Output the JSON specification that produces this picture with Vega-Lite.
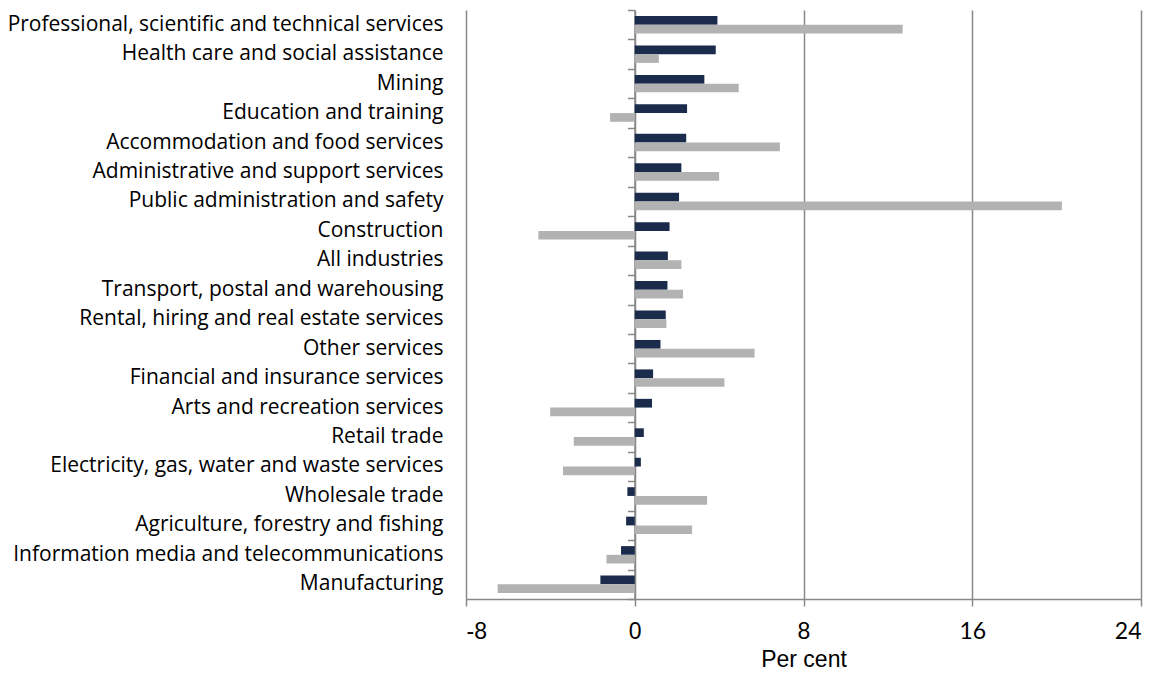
{
  "$schema": "https://vega.github.io/schema/vega-lite/v6.json",
  "width": 675,
  "height": 589,
  "autosize": "none",
  "padding": {"left": 466, "top": 10, "right": 21, "bottom": 74},
  "background": "white",
  "config": {"view": {"stroke": null}},
  "data": {
    "values": [
      {"industry": "Professional, scientific and technical services", "series": "Series 1", "value": 3.92},
      {"industry": "Professional, scientific and technical services", "series": "Series 2", "value": 12.7},
      {"industry": "Health care and social assistance", "series": "Series 1", "value": 3.84},
      {"industry": "Health care and social assistance", "series": "Series 2", "value": 1.14},
      {"industry": "Mining", "series": "Series 1", "value": 3.3},
      {"industry": "Mining", "series": "Series 2", "value": 4.93},
      {"industry": "Education and training", "series": "Series 1", "value": 2.48},
      {"industry": "Education and training", "series": "Series 2", "value": -1.17},
      {"industry": "Accommodation and food services", "series": "Series 1", "value": 2.44},
      {"industry": "Accommodation and food services", "series": "Series 2", "value": 6.88},
      {"industry": "Administrative and support services", "series": "Series 1", "value": 2.21},
      {"industry": "Administrative and support services", "series": "Series 2", "value": 4.0},
      {"industry": "Public administration and safety", "series": "Series 1", "value": 2.1},
      {"industry": "Public administration and safety", "series": "Series 2", "value": 20.25},
      {"industry": "Construction", "series": "Series 1", "value": 1.65},
      {"industry": "Construction", "series": "Series 2", "value": -4.57},
      {"industry": "All industries", "series": "Series 1", "value": 1.57},
      {"industry": "All industries", "series": "Series 2", "value": 2.21},
      {"industry": "Transport, postal and warehousing", "series": "Series 1", "value": 1.55},
      {"industry": "Transport, postal and warehousing", "series": "Series 2", "value": 2.29},
      {"industry": "Rental, hiring and real estate services", "series": "Series 1", "value": 1.47},
      {"industry": "Rental, hiring and real estate services", "series": "Series 2", "value": 1.5},
      {"industry": "Other services", "series": "Series 1", "value": 1.22},
      {"industry": "Other services", "series": "Series 2", "value": 5.68},
      {"industry": "Financial and insurance services", "series": "Series 1", "value": 0.87},
      {"industry": "Financial and insurance services", "series": "Series 2", "value": 4.25},
      {"industry": "Arts and recreation services", "series": "Series 1", "value": 0.82},
      {"industry": "Arts and recreation services", "series": "Series 2", "value": -4.01},
      {"industry": "Retail trade", "series": "Series 1", "value": 0.43},
      {"industry": "Retail trade", "series": "Series 2", "value": -2.89},
      {"industry": "Electricity, gas, water and waste services", "series": "Series 1", "value": 0.29},
      {"industry": "Electricity, gas, water and waste services", "series": "Series 2", "value": -3.4},
      {"industry": "Wholesale trade", "series": "Series 1", "value": -0.35},
      {"industry": "Wholesale trade", "series": "Series 2", "value": 3.43},
      {"industry": "Agriculture, forestry and fishing", "series": "Series 1", "value": -0.41},
      {"industry": "Agriculture, forestry and fishing", "series": "Series 2", "value": 2.72},
      {"industry": "Information media and telecommunications", "series": "Series 1", "value": -0.65},
      {"industry": "Information media and telecommunications", "series": "Series 2", "value": -1.34},
      {"industry": "Manufacturing", "series": "Series 1", "value": -1.63},
      {"industry": "Manufacturing", "series": "Series 2", "value": -6.5}
    ]
  },
  "layer": [
    {
      "mark": {"type": "bar"},
      "encoding": {
        "y": {
          "field": "industry",
          "type": "nominal",
          "sort": null,
          "scale": {"paddingInner": 0, "paddingOuter": 0},
          "axis": {
            "orient": "left",
            "title": null,
            "domain": false,
            "ticks": false,
            "grid": false,
            "labelPadding": 23,
            "labelFont": "Open Sans",
            "labelFontSize": 21,
            "labelColor": "#000000",
            "labelLimit": 800
          }
        },
        "yOffset": {
          "field": "series",
          "type": "nominal",
          "sort": ["Series 1", "Series 2"],
          "scale": {"paddingInner": 0, "paddingOuter": 0.69}
        },
        "x": {
          "field": "value",
          "type": "quantitative",
          "scale": {"domain": [-8, 24], "nice": false, "zero": false},
          "axis": {
            "values": [-8, 0, 8, 16, 24],
            "labelExpr": "datum.value < 0 ? '-' + abs(datum.value) : datum.label",
            "title": "Per cent",
            "titleFont": "Liberation Sans",
            "titleFontSize": 23,
            "titleFontWeight": "normal",
            "titleColor": "#000000",
            "titlePadding": 5,
            "labelFont": {"expr": "datum.value >= 16 ? 'Lato' : 'Liberation Sans'"},
            "labelFontSize": 23,
            "labelColor": "#000000",
            "labelPadding": 14,
            "tickSize": 7,
            "tickColor": "#888888",
            "tickWidth": 1.5,
            "domainColor": "#888888",
            "domainWidth": 1.5,
            "grid": true,
            "gridColor": "#888888",
            "gridWidth": 1.5
          }
        },
        "color": {
          "field": "series",
          "type": "nominal",
          "scale": {"domain": ["Series 1", "Series 2"], "range": ["#1a2b4b", "#b2b2b2"]},
          "legend": null
        }
      }
    },
    {
      "mark": {"type": "tick", "opacity": 0},
      "encoding": {
        "y": {
          "field": "industry",
          "type": "nominal",
          "sort": null,
          "axis": {
            "orient": "left",
            "offset": -168.5,
            "title": null,
            "labels": false,
            "grid": false,
            "domain": true,
            "domainColor": "#888888",
            "domainWidth": 1.5,
            "ticks": true,
            "tickBand": "extent",
            "tickSize": 7,
            "tickColor": "#888888",
            "tickWidth": 1.5
          }
        },
        "x": {"datum": 0, "type": "quantitative"}
      }
    }
  ],
  "resolve": {"axis": {"y": "independent"}}
}
